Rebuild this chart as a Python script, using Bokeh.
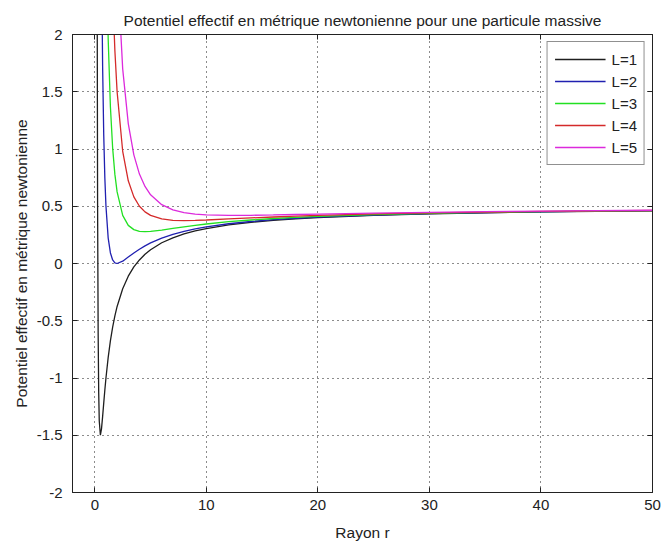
from bokeh.plotting import figure
from bokeh.models import Range1d, FixedTicker, LinearAxis
from bokeh.embed import file_html
from bokeh.resources import INLINE

# Rayon r (sample positions)
r = [0.2, 0.25, 0.3, 0.35, 0.4, 0.5, 0.6, 0.7, 0.8, 0.9, 1.0, 1.2, 1.4, 1.6, 1.8,
     2.0, 2.5, 3.0, 3.5, 4.0, 4.5, 5, 6, 7, 8, 9, 10, 12, 14, 16, 18, 20, 25, 30,
     35, 40, 45, 50]

v_L1 = [3.0, 0.5, -0.611, -1.132, -1.375, -1.5, -1.444, -1.337, -1.219, -1.105, -1.0,
        -0.820, -0.674, -0.555, -0.457, -0.375, -0.22, -0.111, -0.030, 0.031, 0.081,
        0.12, 0.181, 0.224, 0.258, 0.284, 0.305, 0.337, 0.360, 0.377, 0.390, 0.401,
        0.421, 0.434, 0.443, 0.450, 0.456, 0.460]
v_L2 = [40.5, 24.5, 16.06, 11.12, 8.0, 4.5, 2.722, 1.725, 1.125, 0.747, 0.5, 0.222,
        0.092, 0.031, 0.006, 0.0, 0.02, 0.056, 0.092, 0.125, 0.154, 0.18, 0.222, 0.255,
        0.281, 0.302, 0.32, 0.347, 0.367, 0.383, 0.395, 0.405, 0.423, 0.436, 0.444,
        0.451, 0.457, 0.461]
v_L3 = [103.0, 64.5, 43.83, 31.52, 23.63, 14.5, 9.667, 6.827, 5.031, 3.834, 3.0, 1.958,
        1.367, 1.008, 0.778, 0.625, 0.42, 0.333, 0.296, 0.281, 0.278, 0.28, 0.292,
        0.306, 0.320, 0.333, 0.345, 0.365, 0.380, 0.393, 0.403, 0.411, 0.427, 0.438,
        0.447, 0.453, 0.458, 0.462]
v_L4 = [190.5, 120.5, 82.7, 60.1, 45.5, 28.5, 19.4, 13.97, 10.5, 8.155, 6.5, 4.389,
        3.153, 2.375, 1.858, 1.5, 0.98, 0.722, 0.582, 0.5, 0.451, 0.42, 0.389, 0.377,
        0.375, 0.377, 0.38, 0.389, 0.398, 0.406, 0.414, 0.42, 0.433, 0.442, 0.449,
        0.455, 0.460, 0.463]
v_L5 = [303.0, 192.5, 132.7, 96.8, 73.6, 46.5, 31.9, 23.1, 17.53, 13.71, 11.0, 7.513,
        5.449, 4.133, 3.247, 2.625, 1.7, 1.222, 0.949, 0.781, 0.673, 0.6, 0.514, 0.469,
        0.445, 0.432, 0.425, 0.420, 0.421, 0.424, 0.428, 0.431, 0.44, 0.447, 0.453,
        0.458, 0.462, 0.465]

series = [v_L1, v_L2, v_L3, v_L4, v_L5]
labels = ["L=1", "L=2", "L=3", "L=4", "L=5"]
colors = ["#1e1e1e", "#2020b0", "#22e022", "#d42a2a", "#dc2adc"]

x_ticks = [0, 10, 20, 30, 40, 50]
y_ticks = [-2, -1.5, -1, -0.5, 0, 0.5, 1, 1.5, 2]
y_tick_labels = ["-2", "-1.5", "-1", "-0.5", "0", "0.5", "1", "1.5", "2"]

FONT = "Liberation Sans"

p = figure(width=662, height=543, output_backend="svg", toolbar_location=None,
           x_range=Range1d(-2, 50), y_range=Range1d(-2, 2),
           title="Potentiel effectif en métrique newtonienne pour une particule massive",
           min_border_left=72, min_border_right=10, min_border_top=34,
           min_border_bottom=51)

p.background_fill_color = "white"
p.border_fill_color = "white"
p.outline_line_color = "#222222"
p.outline_line_width = 1

p.title.align = "center"
p.title.text_font = FONT
p.title.text_font_size = "15.5px"
p.title.text_font_style = "normal"
p.title.text_color = "#222222"
p.title.offset = 0
p.title.standoff = 11

for ln, lab, col in zip(series, labels, colors):
    p.line(r, ln, line_color=col, line_width=1.3, legend_label=lab)

# axes
p.xaxis.ticker = FixedTicker(ticks=x_ticks)
p.yaxis.ticker = FixedTicker(ticks=y_ticks)
p.yaxis.major_label_overrides = {t: s for t, s in zip(y_ticks, y_tick_labels)}
p.xaxis.axis_label = "Rayon r"
p.yaxis.axis_label = "Potentiel effectif en métrique newtonienne"
for ax in (p.xaxis[0], p.yaxis[0]):
    ax.major_tick_in = 5
    ax.major_tick_out = 0
    ax.minor_tick_line_color = None
    ax.axis_line_color = "#222222"
    ax.major_tick_line_color = "#222222"
    ax.major_label_text_font = FONT
    ax.major_label_text_font_size = "15px"
    ax.major_label_text_color = "#222222"
    ax.axis_label_text_font = FONT
    ax.axis_label_text_font_size = "15.5px"
    ax.axis_label_text_font_style = "normal"
    ax.axis_label_text_color = "#222222"
p.xaxis.major_label_standoff = 7
p.yaxis.major_label_standoff = 10
p.xaxis.axis_label_standoff = 11
p.yaxis.axis_label_standoff = 4

# mirrored inward ticks on the right and top (box on), without labels
for loc, tk in (("right", y_ticks), ("above", x_ticks)):
    ax = LinearAxis(ticker=FixedTicker(ticks=tk),
                    major_label_overrides={t: "" for t in tk},
                    major_label_text_color=None,
                    major_tick_in=5, major_tick_out=0, minor_tick_line_color=None,
                    axis_line_color="#222222", major_tick_line_color="#222222",
                    major_label_standoff=0)
    p.add_layout(ax, loc)

# grid
for g in (p.xgrid[0], p.ygrid[0]):
    g.grid_line_color = "#000000"
    g.grid_line_dash = "1 4"
    g.grid_line_alpha = 0.9
    g.grid_line_width = 1
p.xgrid.ticker = FixedTicker(ticks=x_ticks)
p.ygrid.ticker = FixedTicker(ticks=y_ticks)

# legend
lg = p.legend[0]
lg.location = "top_right"
lg.margin = 7
lg.padding = 7
lg.spacing = 2
lg.glyph_width = 51
lg.glyph_height = 20
lg.label_height = 20
lg.label_standoff = 6
lg.label_text_font = FONT
lg.label_text_font_size = "15px"
lg.label_text_color = "#222222"
lg.border_line_color = "#222222"
lg.border_line_width = 1
lg.background_fill_color = "white"
lg.background_fill_alpha = 1

open("out.html", "w").write(file_html(p, INLINE))
